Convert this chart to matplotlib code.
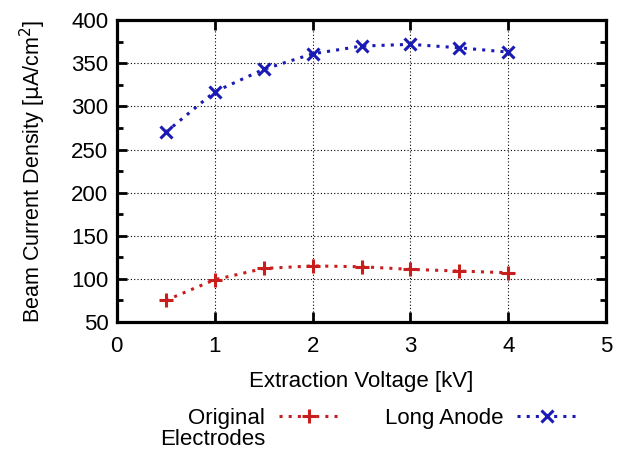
import matplotlib
matplotlib.use("Agg")
import matplotlib.pyplot as plt
from matplotlib.ticker import MultipleLocator

plt.rcParams['font.family'] = ['Liberation Sans', 'DejaVu Sans']
plt.rcParams['font.size'] = 16

# Spannung (kV) und Stromdichte
voltage = [0.5, 1.0, 1.5, 2.0, 2.5, 3.0, 3.5, 4.0]
original = [75, 99, 112, 115, 114, 111, 109, 107]
long_anode = [270, 317, 343, 361, 370, 372, 368, 363]

fig = plt.figure(figsize=(6.18, 4.49), dpi=100)
ax = fig.add_axes([0.189, 0.283, 0.792, 0.672])

ax.plot(voltage, original, color='#c81e1e', ls=(0, (1, 2)), lw=2.2,
        marker='+', ms=10, mew=2.2, label='Original')
ax.plot(voltage, long_anode, color='#1a1ab4', ls=(0, (1, 2)), lw=2.2,
        marker='x', ms=9, mew=2.2, label='Long Anode')

ax.set_xlim(0, 5)
ax.set_ylim(50, 400)
ax.xaxis.set_major_locator(MultipleLocator(1))
ax.yaxis.set_major_locator(MultipleLocator(50))
ax.yaxis.set_minor_locator(MultipleLocator(25))
ax.tick_params(which='both', direction='in', top=True, right=True, width=2)
ax.tick_params(which='major', length=7)
ax.tick_params(which='minor', length=4)
ax.tick_params(axis='x', pad=10)
ax.tick_params(axis='y', pad=6)
ax.grid(True, which='major', color='black', ls=(0, (1, 2)), lw=0.8)
for s in ax.spines.values():
    s.set_linewidth(2.3)

ax.set_xlabel('Extraction Voltage [kV]', labelpad=10)
ax.set_ylabel(r'Beam Current Density [$\mathrm{\mu}$A/cm$^2$]', labelpad=17,
              fontsize=15.5)

leg = fig.legend(loc='upper left', bbox_to_anchor=(0.305, 0.092), ncol=2,
                 frameon=False, markerfirst=False, handlelength=2.7,
                 handletextpad=0.6, columnspacing=2.1, borderpad=0,
                 borderaxespad=0)
# zweite Zeile des Labels, rechtsbuendig unter "Original"
fig.canvas.draw()
ax.annotate('Electrodes', xy=(1, 0), xycoords=leg.get_texts()[0],
            ha='right', va='top', fontsize=16)

plt.savefig('out.png', dpi=100)
